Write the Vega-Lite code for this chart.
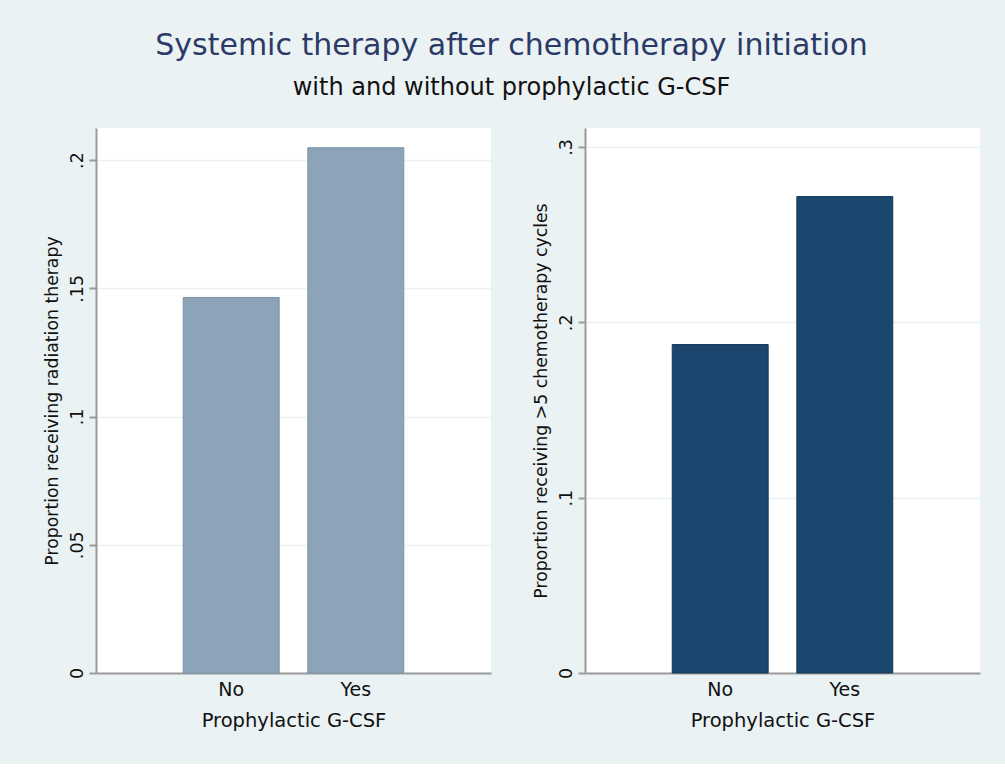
{
  "$schema": "https://vega.github.io/schema/vega-lite/v6.json",
  "background": "#EAF2F3",
  "padding": {"left": 43, "top": 31, "right": 28, "bottom": 34},
  "title": {
    "text": "Systemic therapy after chemotherapy initiation",
    "subtitle": "with and without prophylactic G-CSF",
    "anchor": "middle",
    "frame": "bounds",
    "font": "DejaVu Sans",
    "fontSize": 30,
    "fontWeight": "normal",
    "color": "#2B3A67",
    "subtitleFont": "DejaVu Sans",
    "subtitleFontSize": 24,
    "subtitleColor": "#111111",
    "subtitlePadding": 15,
    "offset": 28
  },
  "datasets": {
    "radiation": [
      {"gcsf": "No", "proportion": 0.1464},
      {"gcsf": "Yes", "proportion": 0.2048}
    ],
    "cycles": [
      {"gcsf": "No", "proportion": 0.1873},
      {"gcsf": "Yes", "proportion": 0.2717}
    ]
  },
  "config": {
    "view": {"fill": "white", "stroke": null},
    "axis": {
      "labelFont": "DejaVu Sans",
      "titleFont": "DejaVu Sans",
      "labelColor": "#111111",
      "titleColor": "#111111",
      "titleFontWeight": "normal",
      "domainColor": "#9A9A9A",
      "domainWidth": 2,
      "tickColor": "#9A9A9A",
      "tickWidth": 2,
      "gridColor": "#EAF2F3",
      "gridWidth": 1.5
    },
    "axisX": {
      "labelFontSize": 19,
      "titleFontSize": 19.5,
      "labelAngle": 0,
      "ticks": false,
      "grid": false,
      "labelPadding": 7,
      "titlePadding": 12
    },
    "axisY": {
      "labelFontSize": 17.5,
      "titleFontSize": 17.3,
      "labelAngle": -90,
      "labelAlign": "center",
      "labelBaseline": "bottom",
      "tickSize": 7,
      "labelPadding": 3,
      "titlePadding": 7,
      "grid": true
    }
  },
  "spacing": 41,
  "hconcat": [
    {
      "width": 395,
      "height": 545,
      "data": {"name": "radiation"},
      "mark": {"type": "bar", "color": "#8CA3B8", "stroke": "#7A92AA", "strokeWidth": 1},
      "encoding": {
        "x": {
          "field": "gcsf",
          "type": "nominal",
          "sort": ["No", "Yes"],
          "scale": {"paddingInner": 0.23, "paddingOuter": 0.7},
          "axis": {"title": "Prophylactic G-CSF"}
        },
        "y": {
          "field": "proportion",
          "type": "quantitative",
          "scale": {"domain": [0, 0.2125], "nice": false},
          "axis": {
            "title": "Proportion receiving radiation therapy",
            "values": [0, 0.05, 0.1, 0.15, 0.2],
            "labelExpr": "datum.value == 0 ? '0' : replace(format(datum.value, '.2~f'), '0.', '.')"
          }
        }
      }
    },
    {
      "width": 395,
      "height": 545,
      "data": {"name": "cycles"},
      "mark": {"type": "bar", "color": "#1B466E", "stroke": "#16395A", "strokeWidth": 1},
      "encoding": {
        "x": {
          "field": "gcsf",
          "type": "nominal",
          "sort": ["No", "Yes"],
          "scale": {"paddingInner": 0.23, "paddingOuter": 0.7},
          "axis": {"title": "Prophylactic G-CSF"}
        },
        "y": {
          "field": "proportion",
          "type": "quantitative",
          "scale": {"domain": [0, 0.3108], "nice": false},
          "axis": {
            "title": "Proportion receiving >5 chemotherapy cycles",
            "values": [0, 0.1, 0.2, 0.3],
            "labelExpr": "datum.value == 0 ? '0' : replace(format(datum.value, '.2~f'), '0.', '.')"
          }
        }
      }
    }
  ]
}
